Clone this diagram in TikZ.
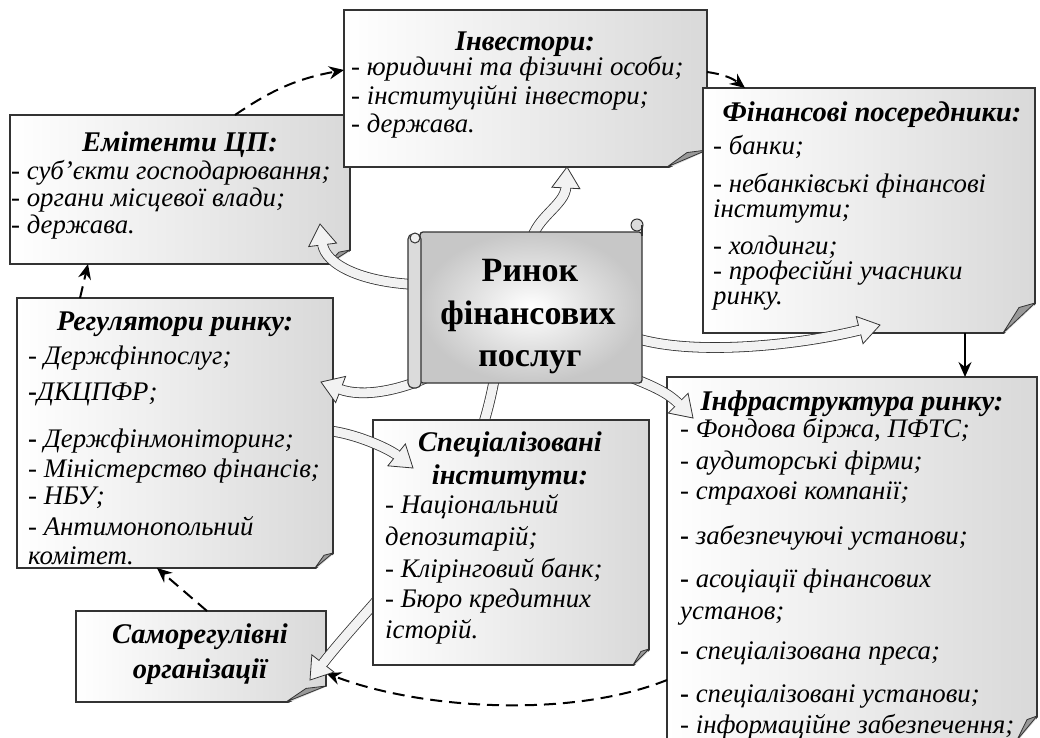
\documentclass[tikz,border=0pt]{standalone}
\usepackage{fontspec}
\setmainfont{Liberation Serif}
\usetikzlibrary{arrows.meta,calc,fit}
\definecolor{afill}{gray}{0.95}
\newcommand\itf{\fontsize{26.8}{30}\selectfont\itshape}
\newcommand\ttf{\fontsize{28.5}{32}\selectfont\bfseries\itshape}
\newcommand\bgf{\fontsize{34}{40}\selectfont\bfseries}
\newcommand\bd{{\upshape\bfseries -}}
% block arrow head: tip #1, last control point #2
\newcommand\bhead[2]{%
  \coordinate (hb) at ($(#1)!21pt!(#2)$);
  \filldraw[fill=afill, draw=black!80, line width=0.8pt, line join=miter] (#1) -- ($(hb)!14pt!90:(#1)$) -- ($(hb)!14pt!-90:(#1)$) -- cycle;
  \draw[afill, line width=8.6pt] ($(hb)!-2pt!(#1)$) -- ($(hb)!1.2pt!(#1)$);}
\newcommand\curl[3]{%
  \fill[white] ($(#1.south east)+(2,-#3)$) -- ($(#1.south east)+(2,2)$) -- ($(#1.south east)+(-#2,2)$) -- cycle;
  \filldraw[fill=black!40, draw=black!80, line width=0.8pt, line join=round] ($(#1.south east)+(0,-#3)$) -- ($(#1.south east)+(-0.5*#2,-0.85*#3)$) -- ($(#1.south east)+(-#2,0)$) -- cycle;}
\newcommand\itm[4]{\node[itm] (#1) at (#2,#3) {#4};}
\newcommand\ttl[4]{\node[ttlst] (#1) at (#2,#3) {#4};}
\begin{document}
\begin{tikzpicture}[x=1pt,y=-1pt,
  box/.style={rectangle, draw=black!80, line width=1.3pt, left color=white, right color=black!15, inner sep=0pt, outer sep=0pt},
  dsh/.style={line width=2pt, dash pattern=on 12pt off 7pt, -{Stealth[length=15pt,width=13pt,inset=5pt]}},
  sol/.style={line width=1.5pt, -{Stealth[length=15pt,width=13pt,inset=5pt]}},
  bbody/.style={draw=black!80, line width=0.8pt, double=afill, double distance=9pt, shorten >=20pt},
  itm/.style={anchor=base west, inner sep=0pt, font=\itf, yshift=-7pt},
  ttlst/.style={anchor=base, inner sep=0pt, font=\ttf, yshift=-8pt},
  big/.style={anchor=base, inner sep=0pt, font=\bgf, yshift=-11pt}]
\useasboundingbox (0,0) rectangle (1040,737);
\fill[white] (0,0) rectangle (1040,737);

% boxes
\node[box, fit={(10,115) (350,264)}] (E) {};
\curl{E}{22}{14}
\node[box, fit={(344,10) (707,167)}] (I) {};
\curl{I}{40}{17}
\node[box, fit={(703,88) (1035,333)}] (F) {};
\curl{F}{32}{30}
\node[box, fit={(667,377) (1037,740)}] (IN) {};
\curl{IN}{20}{24}
\node[box, fit={(76,611) (326,702)}] (SR) {};
\curl{SR}{40}{16}

% dashed and solid connectors
\draw[dsh] ($(E.north west)+(225,0)$) to[bend left=12] ($(I.north west)+(0,60)$);
\draw[dsh] ($(I.north east)+(0,62)$) to[bend left=15] ($(F.north west)+(42,0)$);
\draw[sol] ($(F.south west)+(262,0)$) -- ($(IN.north west)+(298,0)$);
\draw[dsh] ($(IN.north west)+(0,303)$) .. controls +(-100,40) and +(90,35) .. ($(SR.north east)+(0,62)$);

% arrow end points
\coordinate (aS) at (432,285);
\coordinate (bS) at (531,242);
\coordinate (cS) at (632,337);
\coordinate (dS) at (432,375);
\coordinate (eS) at (318,430);
\coordinate (gS) at (495,375);
\coordinate (hS) at (630,377);
\coordinate (aT) at ($(E.south east)+(-30,-40)$);
\coordinate (bT) at ($(I.south west)+(223,0)$);
\coordinate (cT) at ($(F.south west)+(177,-8)$);
\coordinate (hT) at ($(IN.north west)+(26,41)$);
\coordinate (aC) at ($(aT)+(5,40)$);
\coordinate (bC) at ($(bT)+(-2,38)$);
\coordinate (cC) at ($(cT)+(-80,20)$);
\coordinate (hC) at ($(hT)+(-25,-25)$);
\coordinate (eT) at (413,468);
\coordinate (eC) at ($(eT)+(-25,-20)$);

% g body behind S
\coordinate (gT) at ($(SR.south east)+(-16,-22)$);
\coordinate (gC) at ($(gT)+(70,-90)$);
\draw[bbody] (gS) .. controls +(-25,145) and (gC) .. (gT);
\node[box, fit={(373,420) (649,665)}] (S) {};
\curl{S}{16}{16}

% block arrow e body (over S, behind R)
\draw[bbody] (eS) .. controls +(30,0) and (eC) .. (eT);

\node[box, fit={(17,298) (333,568)}] (R) {};
\curl{R}{18}{15}
\coordinate (dT) at ($(R.north east)+(-12,84)$);
\coordinate (dC) at ($(dT)+(42,16)$);
\draw[dsh] ($(R.north west)+(63,0)$) -- ($(E.south west)+(78,0)$);
\draw[dsh] ($(SR.north west)+(131,0)$) -- ($(R.south west)+(140,0)$);

% other bodies
\draw[bbody] (aS) .. controls +(-70,0) and (aC) .. (aT);
\draw[bbody] (bS) .. controls +(5,-25) and (bC) .. (bT);
\draw[bbody] (cS) .. controls +(60,20) and (cC) .. (cT);
\draw[bbody] (dS) .. controls +(-30,15) and (dC) .. (dT);
\draw[bbody] (hS) .. controls +(25,10) and (hC) .. (hT);
% heads
\bhead{aT}{aC}
\bhead{bT}{bC}
\bhead{cT}{cC}
\bhead{dT}{dC}
\bhead{eT}{eC}
\bhead{gT}{gC}
\bhead{hT}{hC}

% centre scroll
\node[rectangle, fit={(420,232) (642,383)}, inner sep=0pt, outer sep=0pt, draw=black!80, line width=1.3pt, inner color=white, outer color=black!22, rounded corners=3pt] (C) {};
\filldraw[fill=black!14, draw=black!80, line width=1.1pt, rounded corners=5pt] ($(C.north west)+(-12,2)$) rectangle ($(C.south west)+(1,5)$);
\filldraw[fill=black!6, draw=black!80, line width=1pt] ($(C.north west)+(-5,6)$) circle (5);
\filldraw[fill=black!14, draw=black!80, line width=1pt] ($(C.north east)+(-5,-7)$) circle (6);
\draw[draw=black!80, line width=1.1pt] ($(C.north east)+(0,-7)$) -- ($(C.north east)+(0,4)$);
\node[big] (c1) at (530,270) {Ринок};
\node[big] (c2) at (528,313) {фінансових};
\node[big] (c3) at (530,355) {послуг};

% texts
\ttl{et}{180}{143}{Емітенти ЦП:}
\itm{e1}{11}{172}{- суб'єкти господарювання;}
\itm{e2}{11}{199}{- органи місцевої влади;}
\itm{e3}{11}{226}{- держава.}

\ttl{it}{525}{42}{Інвестори:}
\itm{i1}{351}{68}{- юридичні та фізичні особи;}
\itm{i2}{351}{97}{- інституційні інвестори;}
\itm{i3}{351}{125}{- держава.}

\ttl{ft}{872}{113}{Фінансові посередники:}
\itm{f1}{713}{147}{- банки;}
\itm{f2}{713}{185}{- небанківські фінансові}
\itm{f3}{713}{210}{інститути;}
\itm{f4}{713}{247}{- холдинги;}
\itm{f5}{713}{272}{- професійні учасники}
\itm{f6}{713}{297}{ринку.}

\ttl{rt}{175}{322}{Регулятори ринку:}
\itm{r1}{28}{357}{- Держфінпослуг;}
\itm{r2}{28}{393}{\bd ДКЦПФР;}
\itm{r3}{28}{440}{\bd\ Держфінмоніторинг;}
\itm{r4}{28}{470}{- Міністерство фінансів;}
\itm{r5}{28}{497}{- НБУ;}
\itm{r6}{28}{528}{- Антимонопольний}
\itm{r7}{28}{557}{комітет.}

\ttl{st1}{510}{443}{Спеціалізовані}
\ttl{st2}{510}{476}{інститути:}
\itm{s1}{385}{506}{- Національний}
\itm{s2}{385}{538}{депозитарій;}
\itm{s3}{385}{570}{- Клірінговий банк;}
\itm{s4}{385}{600}{- Бюро кредитних}
\itm{s5}{385}{631}{історій.}

\ttl{nt}{852}{402}{Інфраструктура ринку:}
\itm{n1}{680}{430}{- Фондова біржа, ПФТС;}
\itm{n2}{680}{462}{- аудиторські фірми;}
\itm{n3}{680}{492}{- страхові компанії;}
\itm{n4}{680}{537}{\bd\ забезпечуючі установи;}
\itm{n5}{680}{580}{\bd\ асоціації фінансових}
\itm{n6}{680}{612}{установ;}
\itm{n7}{680}{652}{\bd\ спеціалізована преса;}
\itm{n8}{680}{695}{\bd\ спеціалізовані установи;}
\itm{n9}{680}{726}{- інформаційне забезпечення;}

\ttl{sr1}{200}{635}{Саморегулівні}
\ttl{sr2}{200}{670}{організації}
\end{tikzpicture}
\end{document}
